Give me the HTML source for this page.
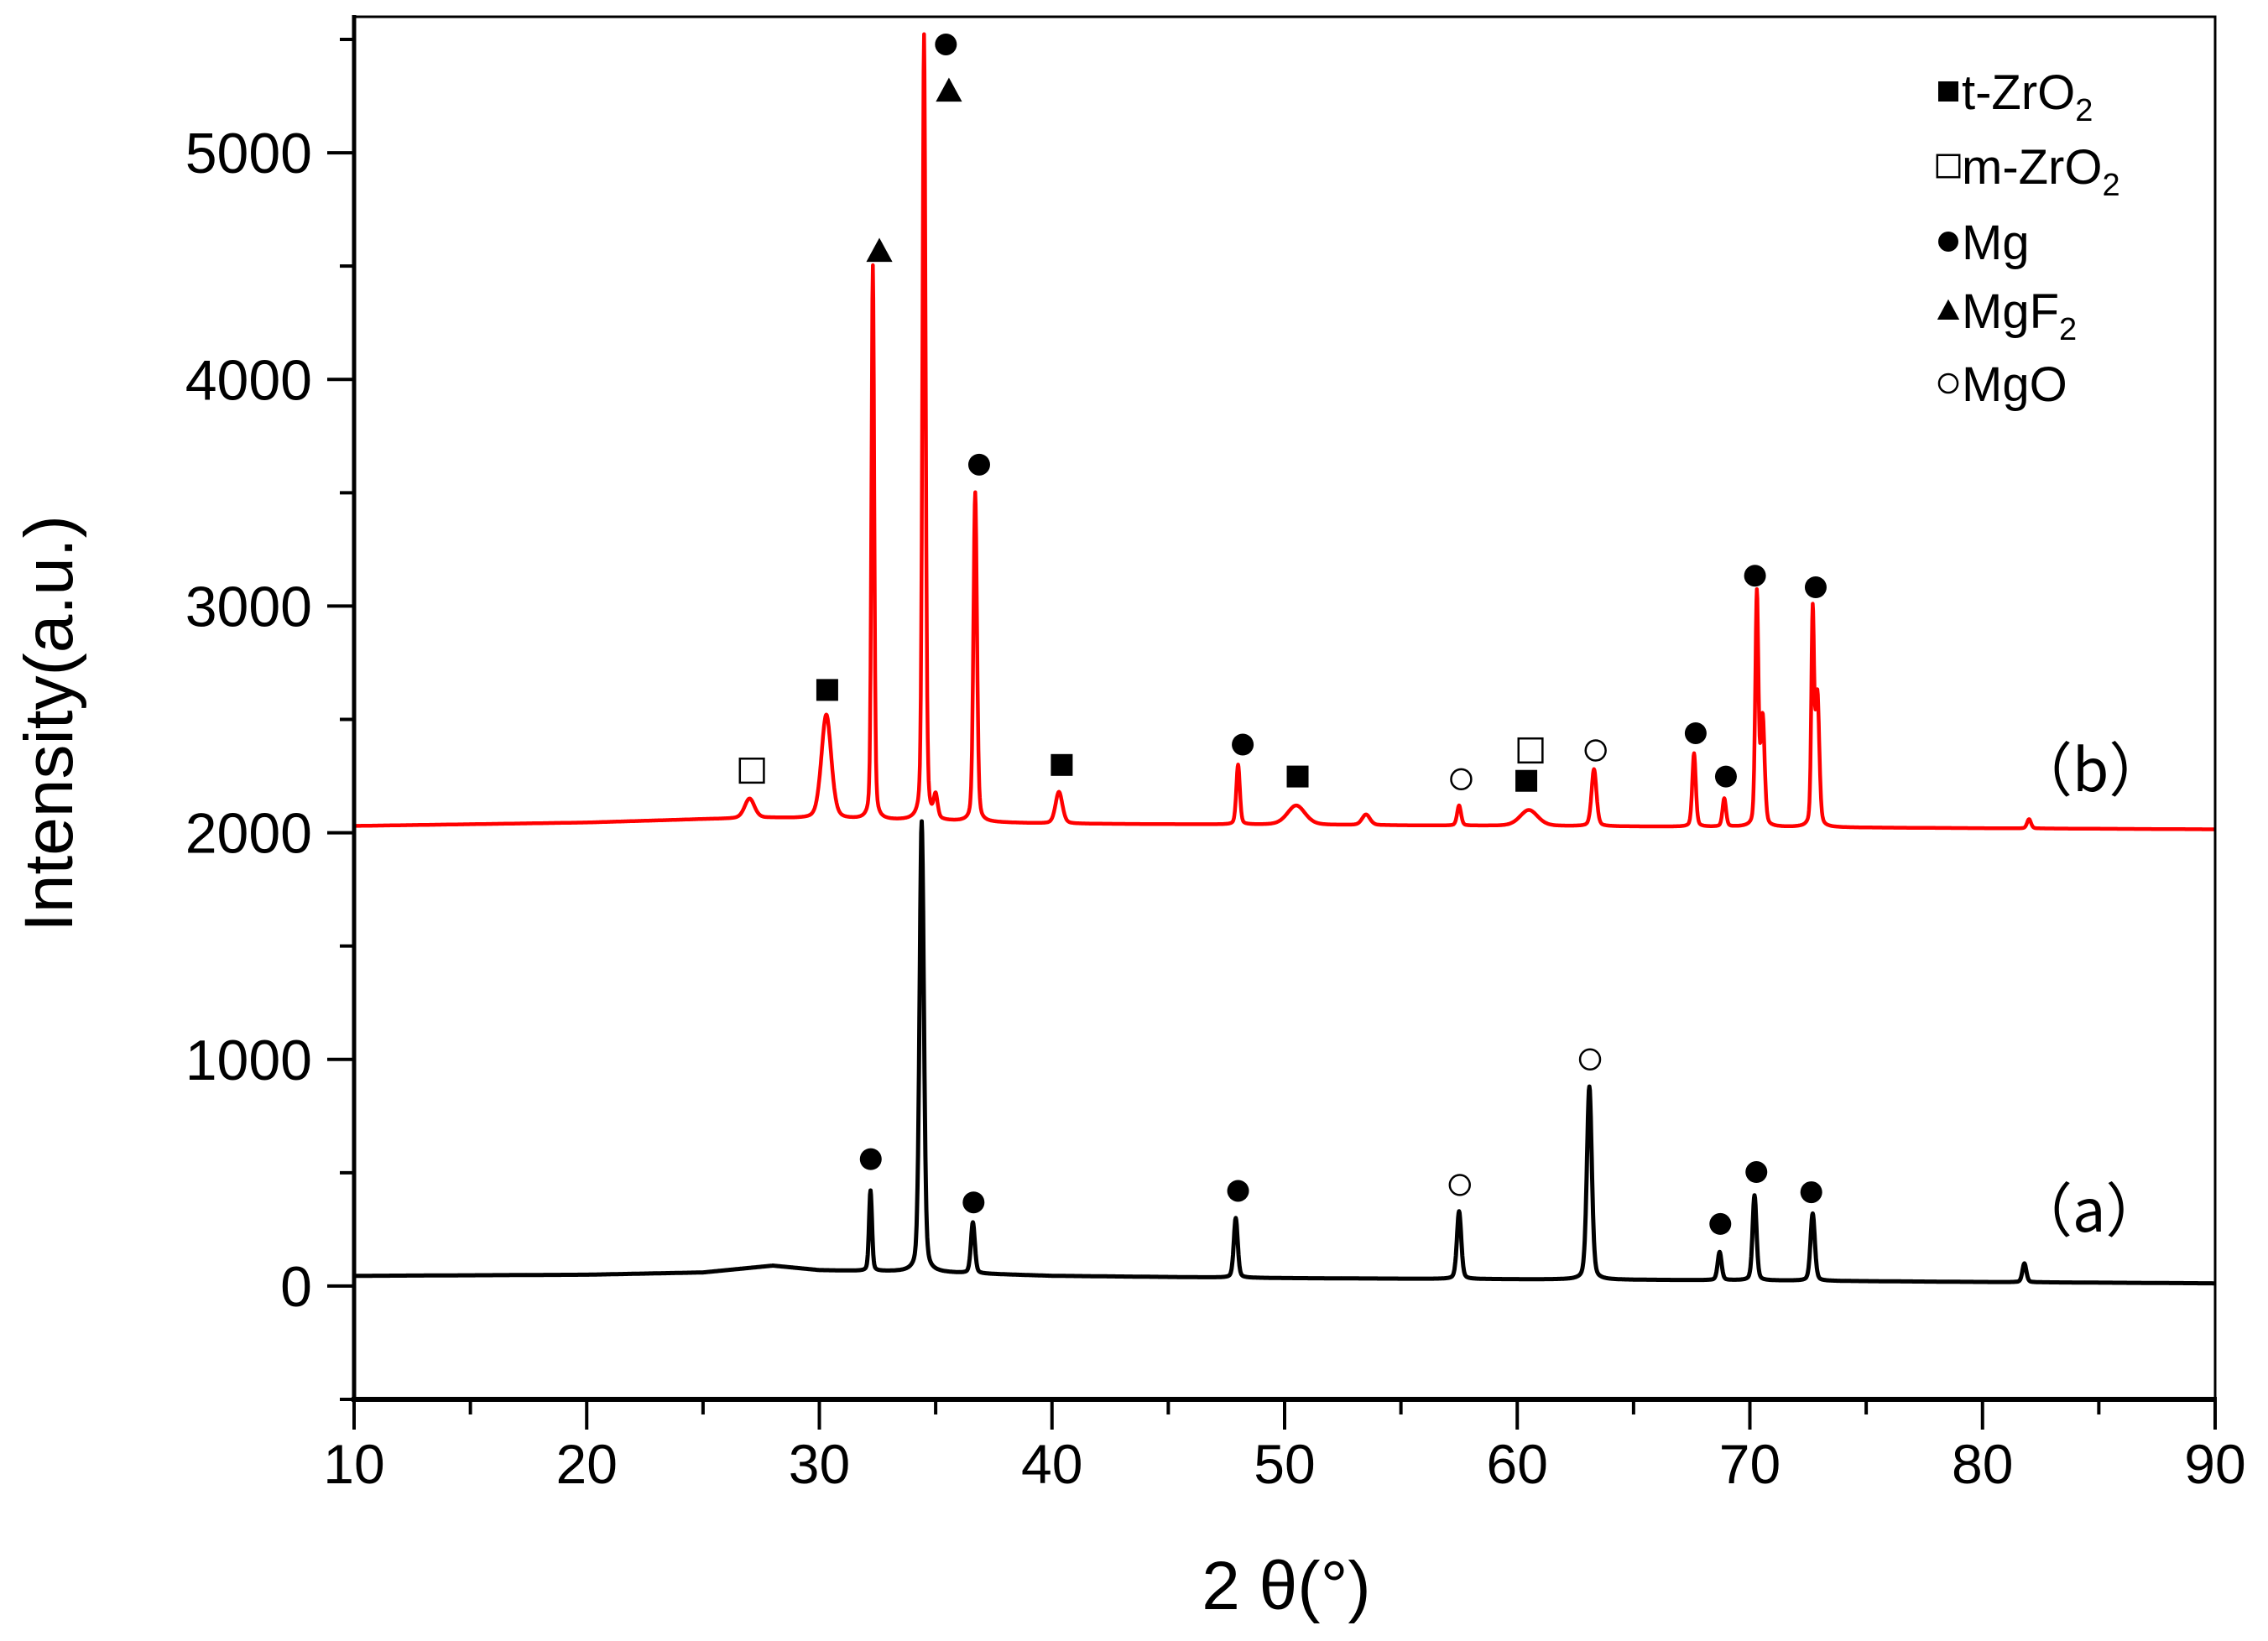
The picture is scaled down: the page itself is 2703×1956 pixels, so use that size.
<!DOCTYPE html>
<html><head><meta charset="utf-8"><style>
html,body{margin:0;padding:0;background:#fff;}
svg{display:block;}
text{font-family:"Liberation Sans",Arial,sans-serif;}
</style></head><body>
<svg id="chart" width="2703" height="1956" viewBox="0 0 2703 1956" xmlns="http://www.w3.org/2000/svg">
<rect width="2703" height="1956" fill="#fff"/>
<g id="plot"></g>
</svg>
<script>
// ---- data ----
const xTicks = [10,20,30,40,50,60,70,80,90];
const yTicks = [0,1000,2000,3000,4000,5000];
const baseX = [10,20,25,28,30,35,40,50,60,70,80,90];
const baseA = [45,50,60,90,70,60,45,35,30,25,18,12];
const baseB = [2030,2045,2060,2065,2060,2050,2040,2035,2030,2025,2020,2015];
// peaks: position, top intensity, FWHM
const peakPosA = [32.2,34.4,36.6,47.9,57.5,63.1,68.7,70.2,72.7,81.8];
const peakTopA = [420,2050,280,300,330,880,150,400,320,100];
const peakWidA = [0.15,0.22,0.2,0.2,0.22,0.25,0.2,0.2,0.22,0.2];
const peakPosB = [27.0,30.3,32.3,34.5,35.0,36.7,40.3,48.0,50.5,53.5,57.5,60.5,63.3,67.6,68.9,70.3,70.55,72.7,72.9,82.0];
const peakTopB = [2150,2520,4500,5520,2150,3500,2180,2300,2120,2080,2120,2100,2280,2350,2150,3050,2500,2950,2600,2060];
const peakWidB = [0.5,0.5,0.14,0.16,0.2,0.18,0.35,0.18,0.9,0.4,0.2,0.9,0.25,0.18,0.18,0.16,0.2,0.14,0.2,0.2];
// markers
const mkType = ['osq','fsq','tri','dot','tri','dot','fsq','dot','fsq','oci','fsq','osq','oci','dot','dot','dot','dot',
                'dot','dot','dot','oci','oci','dot','dot','dot'];
const mkX = [27.1,30.34,32.58,35.44,35.57,36.87,40.42,48.2,50.56,57.59,60.39,60.57,63.37,67.67,68.97,70.22,72.83,
             32.21,36.63,48.0,57.53,63.13,68.73,70.28,72.64];
const mkY = [2274,2630,4567,5478,5274,3624,2299,2389,2248,2236,2229,2363,2363,2439,2248,3134,3083,
             560,369,420,446,1000,274,503,414];

// ---- axes ----
const L=422,R=2640,T=20,B=1668, XMIN=10,XMAX=90,YMIN=-500,YMAX=5600;
const sx=v=>L+(v-XMIN)/(XMAX-XMIN)*(R-L);
const sy=v=>B-(v-YMIN)/(YMAX-YMIN)*(B-T);
const NS='http://www.w3.org/2000/svg';
const plot=document.getElementById('plot');
function mk(tag,attrs,parent){const e=document.createElementNS(NS,tag);for(const k in attrs)e.setAttribute(k,attrs[k]);(parent||plot).appendChild(e);return e;}
function interp(xs,ys,x){for(let i=0;i<xs.length-1;i++){if(x<=xs[i+1]){const t=(x-xs[i])/(xs[i+1]-xs[i]);return ys[i]+t*(ys[i+1]-ys[i]);}}return ys[ys.length-1];}
function profile(base,pos,top,wid){
  let d='';
  for(let x=XMIN;x<=XMAX+1e-9;x+=0.02){
    let y=interp(baseX,base,x);
    for(let i=0;i<pos.length;i++){const a=top[i]-interp(baseX,base,pos[i]);const g=(x-pos[i])/(wid[i]/2);y+=a*Math.exp(-0.693*g*g)*0.7+a*0.3/(1+g*g);}
    d+=(d?'L':'M')+sx(x).toFixed(1)+','+sy(y).toFixed(1);
  }
  return d;
}
const pa=mk('path',{d:profile(baseA,peakPosA,peakTopA,peakWidA),fill:'none',stroke:'#000','stroke-width':5,'stroke-linejoin':'round'});


const pb=mk('path',{d:profile(baseB,peakPosB,peakTopB,peakWidB),fill:'none',stroke:'#f00','stroke-width':4.5,'stroke-linejoin':'round'});



// frame
const fr=mk('path',{d:`M${L},${B}L${L},${T}L${R},${T}L${R},${B}Z`,fill:'none',stroke:'#000','stroke-width':3});


const xa=mk('line',{x1:L-3,x2:R+2,y1:B,y2:B,stroke:'#000','stroke-width':6});


const ya=mk('line',{x1:L,x2:L,y1:T-2,y2:B+3,stroke:'#000','stroke-width':5});


// x ticks
for(let v=XMIN;v<=XMAX;v+=5){const maj=v%10===0;
  const t=mk('line',{x1:sx(v),x2:sx(v),y1:B,y2:B+(maj?36:18),stroke:'#000','stroke-width':4});
  
  }
xTicks.forEach(v=>{const t=mk('text',{x:sx(v),y:B+100,'font-size':66,'text-anchor':'middle'});t.textContent=v;
  
  });
// y ticks
for(let v=-500;v<=5500;v+=500){const maj=v%1000===0;
  const t=mk('line',{x1:L,x2:L-(maj?32:17),y1:sy(v),y2:sy(v),stroke:'#000','stroke-width':4});
  
  }
yTicks.forEach(v=>{const t=mk('text',{x:L-50,y:sy(v)+24,'font-size':68,'text-anchor':'end'});t.textContent=v;
  
  });
// titles
const yt=mk('text',{x:0,y:0,'font-size':82,'text-anchor':'middle',transform:`translate(86,${(sy(0)+sy(5000))/2+5}) rotate(-90)`});
yt.textContent='Intensity(a.u.)';


const xt=mk('text',{x:1533,y:1918,'font-size':82,'text-anchor':'middle'});
xt.textContent='2 θ(°)';


// series labels
const lb=mk('text',{x:2400,y:943,'font-size':70,style:'font-family:"Noto Sans CJK SC",sans-serif'});
lb.textContent='（b）';


const la=mk('text',{x:2400,y:1468,'font-size':70,style:'font-family:"Noto Sans CJK SC",sans-serif'});
la.textContent='（a）';



function marker(type,cx,cy,s){
  let e;
  if(type==='dot') e=mk('circle',{cx,cy,r:s*0.5,fill:'#000'});
  else if(type==='oci') e=mk('circle',{cx,cy,r:s*0.46,fill:'#fff',stroke:'#000','stroke-width':2.5});
  else if(type==='fsq') e=mk('rect',{x:cx-s*0.5,y:cy-s*0.5,width:s,height:s,fill:'#000'});
  else if(type==='osq') e=mk('rect',{x:cx-s*0.55,y:cy-s*0.55,width:s*1.1,height:s*1.1,fill:'#fff',stroke:'#000','stroke-width':2.5});
  else e=mk('path',{d:`M${cx},${cy-s*0.6}L${cx+s*0.6},${cy+s*0.5}L${cx-s*0.6},${cy+s*0.5}Z`,fill:'#000'});
  return e;
}
for(let i=0;i<mkX.length;i++){
  const m=marker(mkType[i],sx(mkX[i]),sy(mkY[i]),26);
  
  
}
// legend
const legTypes=['fsq','osq','dot','tri','oci'];
const legMain=['t-ZrO','m-ZrO','Mg','MgF','MgO'];
const legSub=['2','2','','2',''];
const legY=[109,198,288,370,457];
for(let i=0;i<5;i++){
  const m=marker(legTypes[i],2322,legY[i],i===3?22:24);
  
  
  const t=mk('text',{x:2338,y:legY[i]+21,'font-size':58});
  
  
  t.textContent=legMain[i];
  if(legSub[i]){const s=mk('tspan',{'font-size':38,dy:14},t);s.textContent=legSub[i];}
}
</script>
</body></html>
